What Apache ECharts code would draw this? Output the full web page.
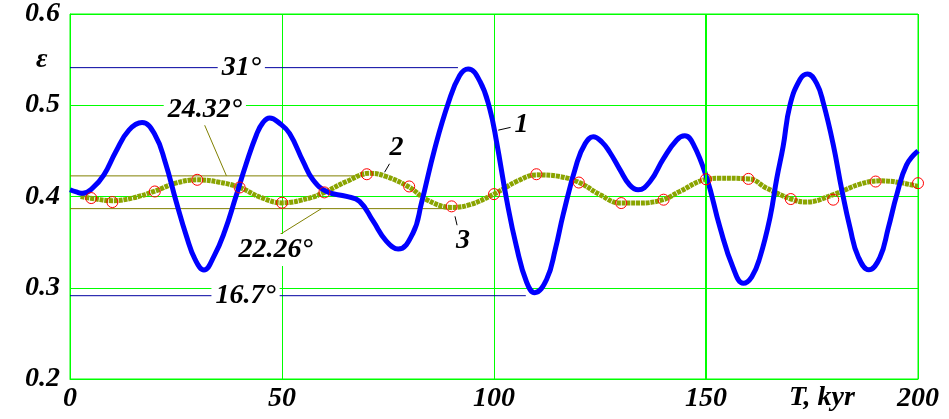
<!DOCTYPE html>
<html><head><meta charset="utf-8">
<script src="https://cdn.jsdelivr.net/npm/echarts@6/dist/echarts.min.js"></script>
<style>html,body{margin:0;padding:0;background:#fff}#c{width:949px;height:419px}</style>
</head><body><div id="c"></div>
<script>
// ---- data ----
const xTicks = [0, 50, 100, 150, 200];
const yTicks = [0.2, 0.3, 0.4, 0.5, 0.6];

// curve 1 (blue): [T, eps]
const curve1 = [[0,0.4074],[1.5,0.4050],[3,0.4035],[5.3,0.4091],[8,0.4237],[10.8,0.4491],[13.9,0.4727],[17,0.4810],[20,0.4680],[22.5,0.4370],[25,0.3950],[27.5,0.3560],[29.5,0.3310],[31.6,0.3194],[34,0.3350],[36.5,0.3620],[39,0.3980],[41.5,0.4350],[44,0.4680],[45.5,0.4810],[47.1,0.4860],[49.5,0.4800],[51.8,0.4690],[55,0.4382],[57.3,0.4183],[60.5,0.4055],[65.2,0.4001],[68.3,0.3947],[71.5,0.3729],[74.6,0.3511],[77.4,0.3424],[80.9,0.3600],[82.9,0.3930],[86,0.4520],[89.3,0.5035],[91.9,0.5325],[93.9,0.5397],[96.7,0.5260],[99,0.4960],[100.6,0.4600],[103,0.3960],[105.3,0.3450],[107.7,0.3060],[109.6,0.2946],[112.4,0.3090],[114.5,0.3430],[116.3,0.3800],[119.5,0.4360],[121.5,0.4580],[123.4,0.4655],[125.5,0.4595],[127.3,0.4485],[129.7,0.4295],[132,0.4126],[134,0.4074],[136.8,0.4164],[139.9,0.4410],[143.1,0.4620],[145,0.4665],[147,0.4575],[150.2,0.4200],[153.3,0.3660],[156.4,0.3220],[158.8,0.3049],[160.8,0.3120],[162.7,0.3330],[165.1,0.3770],[166.7,0.4200],[168.2,0.4550],[169.8,0.5000],[172.2,0.5285],[173.9,0.5343],[176.1,0.5240],[177.7,0.5020],[180,0.4570],[182,0.4080],[184,0.3650],[185.9,0.3340],[188.4,0.3196],[191,0.3330],[193,0.3656],[195,0.4020],[197.3,0.4346],[200,0.4500]];

// curve 2 (olive, dotted): [T, eps]
const curve2 = [[2.5,0.400],[5,0.398],[10,0.3954],[14.7,0.3983],[19.8,0.4055],[24.9,0.4146],[30,0.4183],[35.2,0.4157],[40,0.4099],[45,0.399],[50,0.393],[56.5,0.3983],[60.1,0.4048],[65.2,0.4164],[70.7,0.4255],[74.6,0.4219],[80.1,0.41],[84.1,0.3965],[90,0.388],[94.3,0.391],[100,0.4026],[105.3,0.4164],[110,0.4237],[115.5,0.4219],[120.1,0.4153],[125,0.402],[129.7,0.3928],[134.4,0.3928],[139.9,0.3965],[143.8,0.4055],[150.1,0.4189],[153.3,0.42],[160.2,0.4193],[164.3,0.4091],[170.1,0.3972],[173.7,0.3939],[180,0.402],[186.3,0.4135],[191,0.4172],[195.7,0.4153],[200,0.411]];

// curve 3 (red circles)
const curve3T = [5,10,20,30,40,50,60,70,80,90,100,110,120,130,140,150,160,170,180,190,200];
const curve3E = [0.3983,0.3939,0.4055,0.4183,0.4099,0.3932,0.4045,0.4244,0.411,0.3892,0.4026,0.4244,0.4153,0.3928,0.3965,0.4189,0.4193,0.3972,0.3965,0.4164,0.4146];

// horizontal reference levels
const ref31   = [[0,0.5412],[91.5,0.5412]];
const ref2432 = [[0,0.4226],[69.5,0.4226]];
const ref2226 = [[0,0.3867],[89,0.3867]];
const ref167  = [[0,0.2913],[107.5,0.2913]];

// leader lines
const lead2432 = [[31.6,0.4799],[36.9,0.4226]];
const lead2226 = [[48.9,0.3566],[59.3,0.3867]];
const lead1 = [[101,0.4727],[105.2,0.4771]];
const lead2 = [[76.1,0.4418],[74.2,0.4266]];
const lead3 = [[90.8,0.3783],[91.8,0.3584]];

// annotation texts
const annoNames = ['31°','24.32°','22.26°','16.7°','1','2','3'];
const annoPos = [[40.4,0.5412],[31.8,0.4955],[48.5,0.3414],[41.4,0.2913],[106.5,0.4785],[77,0.4534],[92.7,0.351]];

// ---- chart ----
const FONT = 'Liberation Serif';
const chart = echarts.init(document.getElementById('c'), null, {renderer:'canvas'});
const lineS = (data, color, w, z) => ({type:'line', data, symbol:'none', silent:true, z:z||2,
  lineStyle:{color, width:w||1}, animation:false});
chart.setOption({
  backgroundColor:'#fff',
  animation:false,
  grid:{left:70, right:31, top:11, bottom:40, show:true, borderColor:'#00ff00', borderWidth:1},
  xAxis:{type:'value', min:xTicks[0], max:xTicks[xTicks.length-1], interval:50,
    axisLine:{show:true, lineStyle:{color:'#00ff00'}}, axisTick:{show:false},
    splitLine:{show:true, lineStyle:{color:'#00ff00', width:1}},
    axisLabel:{color:'#000', fontFamily:FONT, fontSize:28, fontWeight:'bold', fontStyle:'italic', margin:6}},
  yAxis:{type:'value', min:yTicks[0], max:yTicks[yTicks.length-1], interval:0.1,
    axisLine:{show:true, lineStyle:{color:'#00ff00'}}, axisTick:{show:false},
    splitLine:{show:true, lineStyle:{color:'#00ff00', width:1}},
    axisLabel:{color:'#000', fontFamily:FONT, fontSize:28, fontWeight:'bold', fontStyle:'italic', margin:10,
      formatter:v=>v.toFixed(1)}},
  graphic:[
    {type:'text', left:36, top:46, style:{text:'ε', font:'italic bold 28px "Liberation Serif"', fill:'#000'}},
    {type:'text', left:789, top:384, style:{text:'T, kyr', font:'italic bold 28px "Liberation Serif"', fill:'#000'}}
  ],
  series:[
    {type:'line', data:[], silent:true,
      markLine:{silent:true, symbol:'none', label:{show:false},
        lineStyle:{color:'#00ff00', width:2, type:'solid'}, data:[{xAxis:xTicks[3]}]}},
    lineS(ref31, '#0000a0', 1, 2),
    lineS(ref167, '#0000a0', 1, 2),
    lineS(ref2432, '#808000', 1, 2),
    lineS(ref2226, '#808000', 1, 2),
    lineS(lead2432, '#808000', 1, 2),
    lineS(lead2226, '#808000', 1, 2),
    lineS(lead1, '#000', 1, 2),
    lineS(lead2, '#000', 1, 2),
    lineS(lead3, '#000', 1, 2),
    {type:'line', data:curve2, symbol:'none', smooth:0.4, z:3,
      lineStyle:{color:'#8aa400', width:5, type:[4,0.8], cap:'butt'}},
    {type:'line', data:curve1, symbol:'none', smooth:0.45, z:4,
      lineStyle:{color:'#0000ff', width:5}},
    {type:'scatter', data:curve3T.map((t,i)=>[t,curve3E[i]]), symbol:'circle', symbolSize:11, z:5,
      itemStyle:{color:'rgba(255,255,255,0)', borderColor:'#ff0000', borderWidth:1, opacity:1}},
    {type:'scatter', z:6, symbolSize:0,
      data:annoNames.map((n,i)=>({name:n, value:annoPos[i]})),
      label:{show:true, position:'inside', formatter:p=>p.name, color:'#000', opacity:1,
        textBorderWidth:0, fontFamily:FONT, fontSize:28, fontWeight:'bold', fontStyle:'italic',
        backgroundColor:'#fff', padding:[2,4]}}
  ]
});
</script></body></html>
